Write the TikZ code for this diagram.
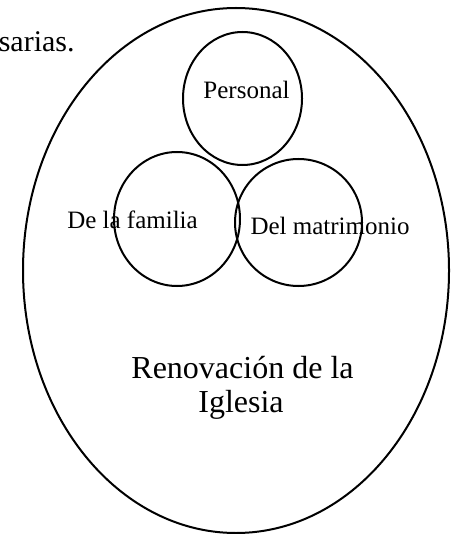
\documentclass[tikz,border=0pt]{standalone}
\usepackage{fontspec}
\setmainfont{Liberation Serif}

\begin{document}
\begin{tikzpicture}[x=0.5pt, y=-0.5pt, ring/.style={draw, line width=1pt}, lbl/.style={font=\fontsize{12.5}{15}\selectfont, inner sep=0pt, anchor=base}]
        \useasboundingbox (0,0) rectangle (450,534);
        \node[anchor=base east, inner sep=0pt, font=\fontsize{15}{18}\selectfont] (prev) at (75,52) {sarias.};

        \draw[ring] (236,270.5) ellipse (213 and 262.5);
        \draw[ring] (242.5,98.5) ellipse (59.5 and 66.5);
        \draw[ring] (177,219) ellipse (63 and 67);
        \draw[ring] (298.5,222.5) ellipse (63.5 and 63.5);

        \node[lbl] (personal) at (246.5,99) {Personal};
        \node[lbl] (familia) at (132.5,228) {De la familia};
        \node[lbl] (matrimonio) at (330,234) {Del matrimonio};

        \node[lbl, font=\fontsize{16}{17}\selectfont] (renov) at (242.5,378) {Renovación de la};
        \node[lbl, font=\fontsize{16}{17}\selectfont] (iglesia) at (241,412) {Iglesia};
    \end{tikzpicture}
\end{document}
